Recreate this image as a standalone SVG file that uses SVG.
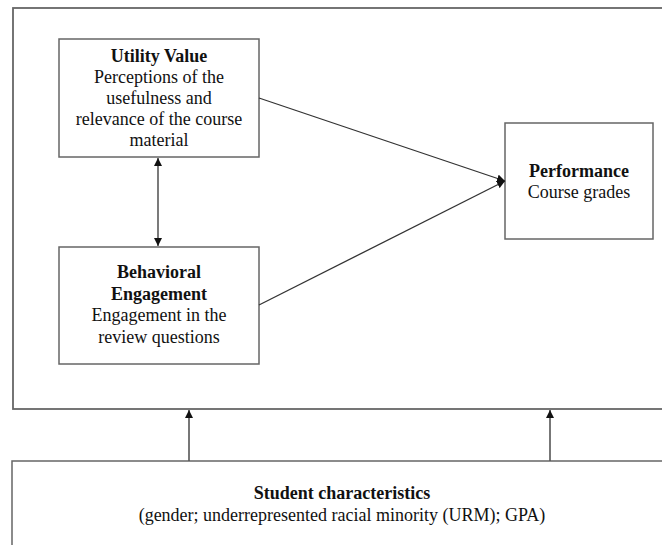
<svg xmlns="http://www.w3.org/2000/svg" width="662" height="545" viewBox="0 0 662 545">
<style>
.box{fill:#fff;stroke:#666;stroke-width:1.5}
.frame{fill:none;stroke:#666;stroke-width:1.8}
.t{font-family:"Liberation Serif","Times New Roman",serif;font-size:18px;fill:#111;text-anchor:middle}
.b{font-weight:bold}
.c{stroke:#333;stroke-width:1.3;fill:none}
.g{stroke:#555;stroke-width:1.6;fill:none}
</style>
<defs>
<marker id="ah" viewBox="0 0 10 10" refX="10" refY="5" markerWidth="8" markerHeight="8" markerUnits="userSpaceOnUse" orient="auto-start-reverse">
<path d="M0,0 L10,5 L0,10 z" fill="#111"/>
</marker>
</defs>
<rect class="frame" x="13" y="8" width="660" height="401"/>
<g id="utility">
<rect class="box" x="59" y="39" width="200" height="118"/>
<text class="t b" x="159" y="62">Utility Value</text>
<text class="t" x="159" y="83">Perceptions of the</text>
<text class="t" x="159" y="104">usefulness and</text>
<text class="t" x="159" y="125">relevance of the course</text>
<text class="t" x="159" y="146">material</text>
</g>
<g id="behavioral">
<rect class="box" x="59" y="247" width="200" height="117"/>
<text class="t b" x="159" y="278">Behavioral</text>
<text class="t b" x="159" y="300">Engagement</text>
<text class="t" x="159" y="321">Engagement in the</text>
<text class="t" x="159" y="343">review questions</text>
</g>
<g id="performance">
<rect class="box" x="505" y="123" width="148" height="116"/>
<text class="t b" x="579" y="177">Performance</text>
<text class="t" x="579" y="198">Course grades</text>
</g>
<g id="student">
<rect class="box" x="12" y="461" width="670" height="100"/>
<text class="t b" x="342" y="499">Student characteristics</text>
<text class="t" x="342" y="521">(gender; underrepresented racial minority (URM); GPA)</text>
</g>
<g id="connectors">
<line class="c" x1="158" y1="158" x2="158" y2="246" marker-start="url(#ah)" marker-end="url(#ah)"/>
<line class="c" x1="259" y1="98" x2="505" y2="181" marker-end="url(#ah)"/>
<line class="c" x1="259" y1="305" x2="505" y2="181" marker-end="url(#ah)"/>
<line class="g" x1="189" y1="461" x2="189" y2="410" marker-end="url(#ah)"/>
<line class="g" x1="550" y1="461" x2="550" y2="410" marker-end="url(#ah)"/>
</g>
</svg>
